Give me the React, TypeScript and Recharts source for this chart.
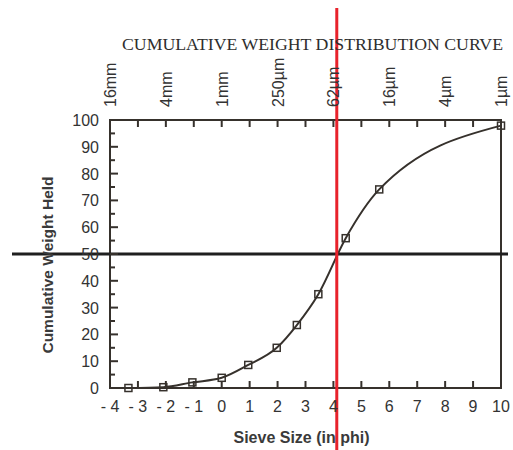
import React from "react";
import {
    LineChart,
    Line,
    XAxis,
    YAxis,
    ReferenceArea,
    ReferenceLine,
    Label
} from "recharts";

// sieve size in phi vs cumulative weight held (%)
const phiValues = [-3.34, -2.09, -1.05, 0, 0.95, 1.97, 2.69, 3.46, 4.44, 5.64, 10];
const weightHeld = [0, 0.3, 2.1, 3.8, 8.6, 15, 23.5, 35, 55.9, 74.1, 97.9];

const phiTicks = [-4, -3, -2, -1, 0, 1, 2, 3, 4, 5, 6, 7, 8, 9, 10];
const sizeLabels: Record<number, string> = {
    [-4]: "16mm",
    [-2]: "4mm",
    0: "1mm",
    2: "250µm",
    4: "62µm",
    6: "16µm",
    8: "4µm",
    10: "1µm"
};
const percentTicks = [0, 5, 10, 15, 20, 25, 30, 35, 40, 45, 50, 55, 60, 65, 70, 75, 80, 85, 90, 95, 100];

// median markers
const medianPhi = 4.12;
const medianPct = 50;

const data = phiValues.map((phi, i) => ({ phi, held: weightHeld[i] }));

const INK = "#36312c";
const SANS = "'Liberation Sans', Arial, Helvetica, sans-serif";

const fmtPhi = (v: number) => (v < 0 ? `- ${Math.abs(v)}` : `${v}`);

const BottomTick = (props: any) => {
    const { x, y, payload } = props;
    const v = payload.value;
    return (
        <g>
            {v > -4 && v < 10 && <line x1={x} x2={x} y1={y} y2={y - 7} stroke={INK} strokeWidth={2} />}
            <text x={x} y={y + 24} textAnchor="middle" fontSize={16} fontFamily={SANS} fill="#333">
                {fmtPhi(v)}
            </text>
        </g>
    );
};

const TopTick = (props: any) => {
    const { x, y, payload } = props;
    const v = payload.value;
    const label = sizeLabels[v];
    return (
        <g>
            {v > -4 && v < 10 && <line x1={x} x2={x} y1={y} y2={y + 7} stroke={INK} strokeWidth={2} />}
            {label && (
                <text
                    x={x + 6}
                    y={y - 13}
                    transform={`rotate(-90, ${x + 6}, ${y - 13})`}
                    textAnchor="start"
                    fontSize={16}
                    fontFamily={SANS}
                    fill="#333"
                >
                    {label}
                </text>
            )}
        </g>
    );
};

const LeftTick = (props: any) => {
    const { x, y, payload } = props;
    const v = payload.value;
    const major = v % 10 === 0;
    return (
        <g>
            {v > 0 && v < 100 && <line x1={x} x2={x + (major ? 8 : 5)} y1={y} y2={y} stroke={INK} strokeWidth={2} />}
            {major && (
                <text x={x - 11} y={y + 6} textAnchor="end" fontSize={16} fontFamily={SANS} fill="#333">
                    {v}
                </text>
            )}
        </g>
    );
};

const RightTick = (props: any) => {
    const { x, y, payload } = props;
    const v = payload.value;
    const major = v % 10 === 0;
    if (v <= 0 || v >= 100) return <g />;
    return <line x1={x} x2={x - (major ? 8 : 5)} y1={y} y2={y} stroke={INK} strokeWidth={2} />;
};

const SquareDot = (props: any) => {
    const { cx, cy, index } = props;
    return (
        <rect
            key={`dot-${index}`}
            x={cx - 3.5}
            y={cy - 3.5}
            width={7}
            height={7}
            fill="none"
            stroke={INK}
            strokeWidth={1.5}
        />
    );
};

export default function App() {
    return (
        <div style={{ position: "absolute", left: 0, top: 0, width: 513, height: 450, background: "#fff" }}>
            <LineChart
                width={513}
                height={450}
                data={data}
                margin={{ top: 100, right: 2, bottom: 42, left: 90 }}
            >
                <XAxis
                    xAxisId="bottom"
                    dataKey="phi"
                    type="number"
                    domain={[-4, 10]}
                    ticks={phiTicks}
                    interval={0}
                    height={20}
                    axisLine={false}
                    tickLine={false}
                    tickSize={0}
                    tickMargin={0}
                    tick={<BottomTick />}
                >
                    <Label
                        content={(p: any) => {
                            const vb = p.viewBox;
                            return (
                                <text
                                    x={vb.x + vb.width / 2 - 4}
                                    y={vb.y + 55}
                                    textAnchor="middle"
                                    fontSize={16}
                                    fontWeight="bold"
                                    fontFamily={SANS}
                                    fill="#3a3a3a"
                                >
                                    Sieve Size (in phi)
                                </text>
                            );
                        }}
                    />
                </XAxis>
                <XAxis
                    xAxisId="top"
                    orientation="top"
                    dataKey="phi"
                    type="number"
                    domain={[-4, 10]}
                    ticks={phiTicks}
                    interval={0}
                    height={20}
                    axisLine={false}
                    tickLine={false}
                    tickSize={0}
                    tickMargin={0}
                    tick={<TopTick />}
                >
                    <Label
                        content={(p: any) => {
                            const vb = p.viewBox;
                            return (
                                <text
                                    x={vb.x + vb.width / 2 + 7}
                                    y={vb.y - 50}
                                    textAnchor="middle"
                                    fontSize={17.5}
                                    textLength={381}
                                    lengthAdjust="spacingAndGlyphs"
                                    fontFamily="'Liberation Serif', 'Times New Roman', serif"
                                    fill="#2e2e2e"
                                >
                                    CUMULATIVE WEIGHT DISTRIBUTION CURVE
                                </text>
                            );
                        }}
                    />
                </XAxis>
                <YAxis
                    yAxisId="left"
                    type="number"
                    domain={[0, 100]}
                    ticks={percentTicks}
                    interval={0}
                    width={20}
                    axisLine={false}
                    tickLine={false}
                    tickSize={0}
                    tickMargin={0}
                    tick={<LeftTick />}
                >
                    <Label
                        content={(p: any) => {
                            const vb = p.viewBox;
                            const cx = 53;
                            const cy = vb.y + vb.height / 2 + 11;
                            return (
                                <text
                                    x={cx}
                                    y={cy}
                                    transform={`rotate(-90, ${cx}, ${cy})`}
                                    textAnchor="middle"
                                    fontSize={15.5}
                                    fontWeight="bold"
                                    fontFamily={SANS}
                                    fill="#3a3a3a"
                                >
                                    Cumulative Weight Held
                                </text>
                            );
                        }}
                    />
                </YAxis>
                <YAxis
                    yAxisId="right"
                    orientation="right"
                    type="number"
                    domain={[0, 100]}
                    ticks={percentTicks}
                    interval={0}
                    width={10}
                    axisLine={false}
                    tickLine={false}
                    tickSize={0}
                    tickMargin={0}
                    tick={<RightTick />}
                />
                <ReferenceArea
                    xAxisId="bottom"
                    yAxisId="left"
                    x1={-4}
                    x2={10}
                    y1={0}
                    y2={100}
                    fill="none"
                    stroke={INK}
                    strokeWidth={2}
                    ifOverflow="visible"
                />
                <Line
                    xAxisId="bottom"
                    yAxisId="left"
                    dataKey="held"
                    type="monotone"
                    stroke={INK}
                    strokeWidth={2}
                    dot={<SquareDot />}
                    activeDot={false}
                    isAnimationActive={false}
                />
                <ReferenceLine
                    xAxisId="bottom"
                    yAxisId="left"
                    y={medianPct}
                    ifOverflow="visible"
                    shape={(p: any) => (
                        <line x1={12} x2={508} y1={p.y1} y2={p.y2} stroke="#1f1f1f" strokeWidth={3} />
                    )}
                />
                <ReferenceLine
                    xAxisId="bottom"
                    yAxisId="left"
                    x={medianPhi}
                    ifOverflow="visible"
                    shape={(p: any) => (
                        <line x1={p.x1} x2={p.x2} y1={8} y2={450} stroke="#e8222b" strokeWidth={3} />
                    )}
                />
            </LineChart>
        </div>
    );
}
